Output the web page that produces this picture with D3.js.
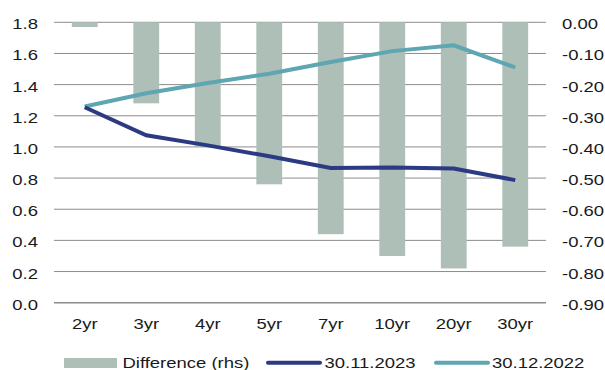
<!DOCTYPE html>
<html>
<head>
<meta charset="utf-8">
<script src="https://cdn.jsdelivr.net/npm/d3@7"></script>
<style>
  html, body { margin: 0; padding: 0; background: #fff; }
  svg { display: block; }
  text { font-family: "Liberation Sans", Arial, sans-serif; font-size: 14px; fill: #1a1a1a; }
</style>
</head>
<body>
<svg id="chart" width="605" height="370"></svg>
<script>
// Curve tenors
const categories = ["2yr", "3yr", "4yr", "5yr", "7yr", "10yr", "20yr", "30yr"];
// Yields (lhs)
const nov2023 = [1.255, 1.075, 1.01, 0.94, 0.865, 0.868, 0.862, 0.787];
const dec2022 = [1.26, 1.345, 1.41, 1.47, 1.545, 1.615, 1.652, 1.51];
// Difference (rhs)
const difference = [-0.015, -0.26, -0.40, -0.52, -0.68, -0.75, -0.79, -0.72];
// Axis ticks
const leftTicks = [0, 0.2, 0.4, 0.6, 0.8, 1.0, 1.2, 1.4, 1.6, 1.8];
const rightTicks = [0, -0.1, -0.2, -0.3, -0.4, -0.5, -0.6, -0.7, -0.8, -0.9];
const seriesNames = ["Difference (rhs)", "30.11.2023", "30.12.2022"];

const colors = { bar: "#adbfb7", nov: "#2c3a84", dec: "#5ea6b2", grid: "#8c8c8c" };
const SX = 1.32; // horizontal stretch of the typeface

const svg = d3.select("#chart");
const plot = { left: 54, right: 546, top: 22.3, bottom: 302.7 };

const x = d3.scaleBand().domain(categories)
  .range([plot.left, plot.right]).paddingInner(0.58).paddingOuter(0.29);
const yL = d3.scaleLinear().domain([0, 1.8]).range([plot.bottom, plot.top]);
const yR = d3.scaleLinear().domain([-0.9, 0]).range([plot.bottom, plot.top]);
const cx = d => x(d) + x.bandwidth() / 2;

function label(g, px, py, str, anchor) {
  return g.append("text")
    .attr("transform", `translate(${px},${py}) scale(${SX},1)`)
    .attr("text-anchor", anchor)
    .text(str);
}

// Gridlines
svg.append("g").selectAll("line").data(leftTicks).join("line")
  .attr("x1", plot.left).attr("x2", plot.right)
  .attr("y1", d => yL(d)).attr("y2", d => yL(d))
  .attr("stroke", colors.grid).attr("stroke-width", d => d === 0 ? 1.5 : 1);

// Difference bars hanging from zero on the right axis
svg.append("g").selectAll("rect").data(categories).join("rect")
  .attr("x", d => x(d))
  .attr("width", x.bandwidth())
  .attr("y", yR(0))
  .attr("height", (d, i) => yR(difference[i]) - yR(0))
  .attr("fill", colors.bar);

// Yield curves
const line = d3.line().x((d, i) => cx(categories[i]));
svg.append("path").datum(dec2022)
  .attr("d", line.y(d => yL(d)))
  .attr("fill", "none").attr("stroke", colors.dec).attr("stroke-width", 4);
svg.append("path").datum(nov2023)
  .attr("d", line.y(d => yL(d)))
  .attr("fill", "none").attr("stroke", colors.nov).attr("stroke-width", 4);

// Left axis labels
const gl = svg.append("g");
leftTicks.forEach(t => label(gl, 38, yL(t) + 7, d3.format(".1f")(t), "end"));
// Right axis labels
const gr = svg.append("g");
rightTicks.forEach(t => label(gr, 562, yR(t) + 7, t === 0 ? "0.00" : d3.format(".2f")(t).replace("−", "-"), "start"));
// Category labels
const gx = svg.append("g");
categories.forEach(c => label(gx, cx(c), 329, c, "middle"));

// Legend
const lg = svg.append("g");
lg.append("rect").attr("x", 64).attr("y", 358).attr("width", 53).attr("height", 10).attr("fill", colors.bar);
label(lg, 122.5, 368, seriesNames[0], "start");
lg.append("line").attr("x1", 268).attr("x2", 320).attr("y1", 362.7).attr("y2", 362.7)
  .attr("stroke", colors.nov).attr("stroke-width", 4).attr("stroke-linecap", "round");
label(lg, 324.5, 368, seriesNames[1], "start");
lg.append("line").attr("x1", 436).attr("x2", 488).attr("y1", 362.7).attr("y2", 362.7)
  .attr("stroke", colors.dec).attr("stroke-width", 4).attr("stroke-linecap", "round");
label(lg, 492, 368, seriesNames[2], "start");
</script>
</body>
</html>
